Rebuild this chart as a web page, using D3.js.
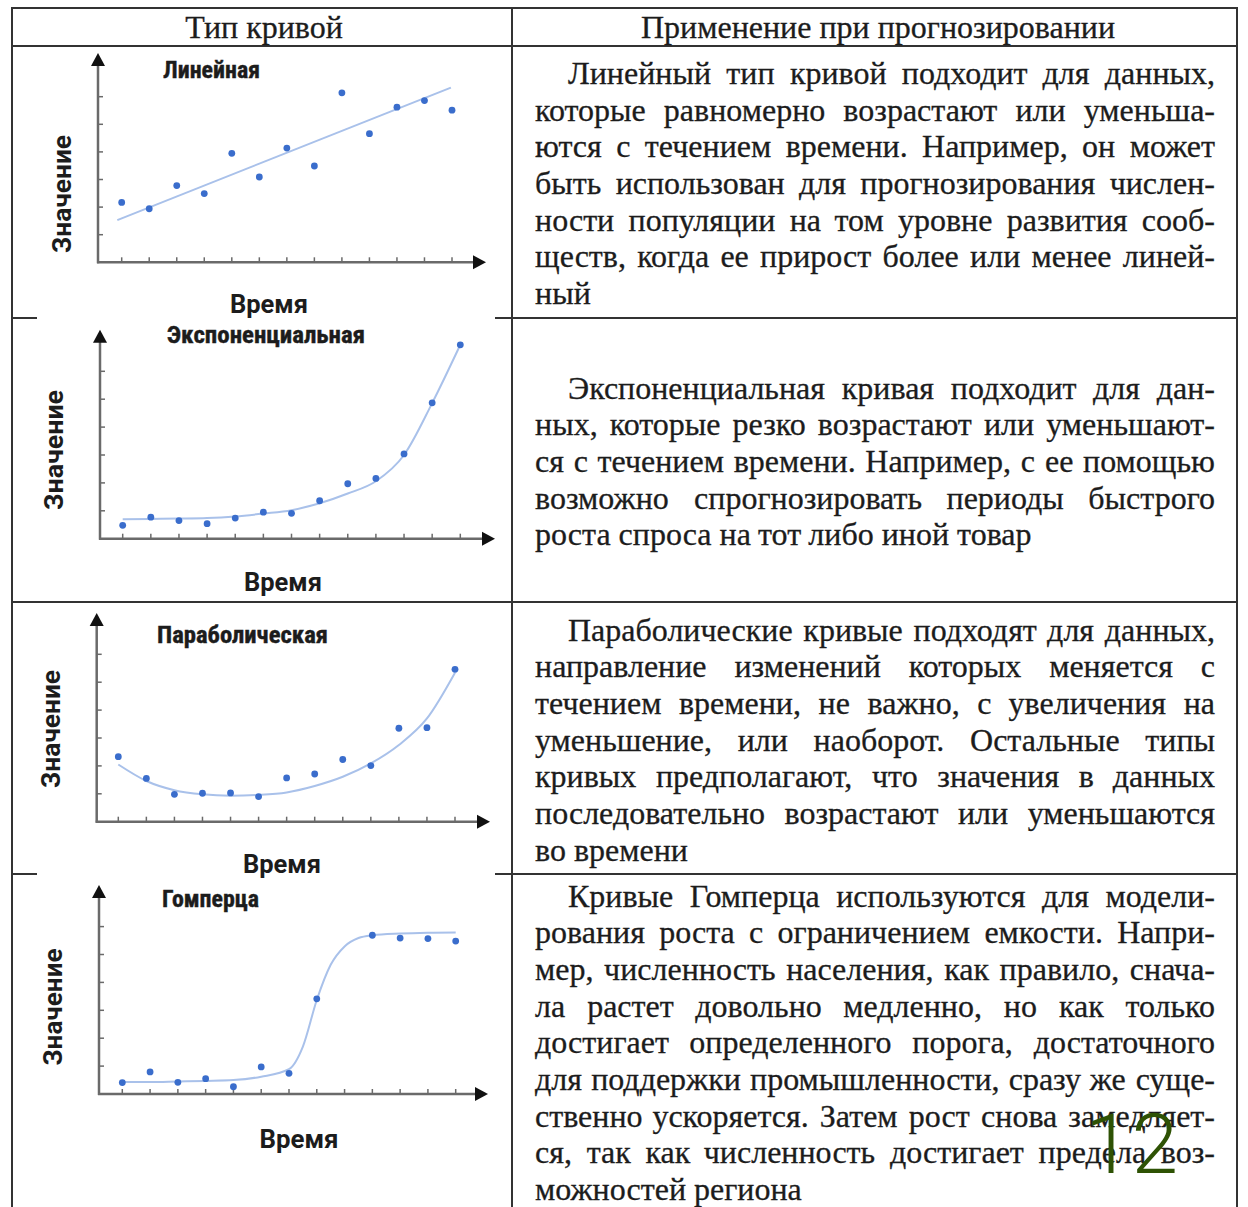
<!DOCTYPE html>
<html><head><meta charset="utf-8">
<script src="https://cdn.jsdelivr.net/npm/d3@7"></script>
<style>
body{margin:0;background:#fff;}
svg{display:block;}
</style></head><body>
<svg id="c" width="1248" height="1207"></svg>
<script>
// ---------------- DATA ----------------
const headers = ["Тип кривой", "Применение при прогнозировании"];
const chartTitles = ["Линейная", "Экспоненциальная", "Параболическая", "Гомперца"];
const xLabel = "Время";
const yLabel = "Значение";
const timeIdx = [1,2,3,4,5,6,7,8,9,10,11,12,13];
const yTickIdx = [1,2,3,4,5,6];

const linearValues = [2.17,1.94,2.78,2.49,3.95,3.09,4.14,3.49,6.14,4.66,5.62,5.86,5.51];
const linearFitX = [0.84, 12.96];
const linearFitY = [1.53, 6.33];

const expValues = [0.48,0.77,0.65,0.54,0.74,0.95,0.91,1.36,1.97,2.16,3.04,4.87,6.95];
const expFitY   = [0.70,0.71,0.72,0.74,0.80,0.90,1.02,1.27,1.62,2.06,3.00,4.86,6.95];

const paraValues = [2.33,1.55,0.98,1.02,1.03,0.90,1.57,1.71,2.23,2.01,3.35,3.37,5.46];
const paraFitY   = [2.05,1.46,1.13,0.98,0.93,0.96,1.05,1.28,1.61,2.09,2.75,3.70,5.34];

const gompValues = [0.41,0.79,0.42,0.55,0.26,0.97,0.74,3.41,null,5.69,5.59,5.57,5.48];
const gompFitX = [1,2,3,4,5,6,7,7.5,8,8.5,9,9.5,10,11,12,13];
const gompFitY = [0.43,0.43,0.45,0.47,0.50,0.62,0.89,1.70,3.37,4.63,5.29,5.59,5.69,5.75,5.78,5.79];

const descriptions = [
  ["Линейный тип кривой подходит для данных,",
   "которые равномерно возрастают или уменьша-",
   "ются с течением времени. Например, он может",
   "быть использован для прогнозирования числен-",
   "ности популяции на том уровне развития сооб-",
   "ществ, когда ее прирост более или менее линей-",
   "ный"],
  ["Экспоненциальная кривая подходит для дан-",
   "ных, которые резко возрастают или уменьшают-",
   "ся с течением времени. Например, с ее помощью",
   "возможно спрогнозировать периоды быстрого",
   "роста спроса на тот либо иной товар"],
  ["Параболические кривые подходят для данных,",
   "направление изменений которых меняется с",
   "течением времени, не важно, с увеличения на",
   "уменьшение, или наоборот. Остальные типы",
   "кривых предполагают, что значения в данных",
   "последовательно возрастают или уменьшаются",
   "во времени"],
  ["Кривые Гомперца используются для модели-",
   "рования роста с ограничением емкости. Напри-",
   "мер, численность населения, как правило, снача-",
   "ла растет довольно медленно, но как только",
   "достигает определенного порога, достаточного",
   "для поддержки промышленности, сразу же суще-",
   "ственно ускоряется. Затем рост снова замедляет-",
   "ся, так как численность достигает предела воз-",
   "можностей региона"]
];
const pageNumber = "12";

// ---------------- LAYOUT ----------------
const svg = d3.select("#c");
const TEXT = "#1c1c1c";
const BORDER = "#333";
const DOT = "#3a6dcc";
const FIT = "#a9c1ea";
const AXIS = "#6a6a6a";

const frames = [
  {ox:98,  oy:262.3, x1:121.7, x13:452,   dy:27.6, yTip:53,  xTip:486,
   title:{x:163,y:78,w:97}, yl:{x:62,y:194,w:118}, xl:{x:269,y:313,w:78}},
  {ox:100, oy:538.7, x1:122.7, x13:460.3, dy:27.9, yTip:329.7, xTip:495,
   title:{x:167,y:343,w:198}, yl:{x:54,y:450,w:120}, xl:{x:283,y:591,w:78}},
  {ox:96.7,oy:821.7, x1:118.3, x13:455,   dy:27.9, yTip:613, xTip:490,
   title:{x:157,y:643,w:171}, yl:{x:51,y:729,w:118}, xl:{x:282,y:873,w:78}},
  {ox:99,  oy:1094,  x1:122.3, x13:455.7, dy:27.9, yTip:885, xTip:488,
   title:{x:162,y:907,w:97}, yl:{x:52.5,y:1007,w:117}, xl:{x:299,y:1148,w:79}}
];

const series = [
  {pts: linearValues, fit: linearFitX.map((x,i)=>[x, linearFitY[i]]), curve: d3.curveLinear},
  {pts: expValues,    fit: timeIdx.map((x,i)=>[x, expFitY[i]]),       curve: d3.curveMonotoneX},
  {pts: paraValues,   fit: timeIdx.map((x,i)=>[x, paraFitY[i]]),      curve: d3.curveMonotoneX},
  {pts: gompValues,   fit: gompFitX.map((x,i)=>[x, gompFitY[i]]),     curve: d3.curveMonotoneX}
];

// ---------------- CHARTS ----------------
frames.forEach((f, k) => {
  const g = svg.append("g");
  const x = d3.scaleLinear().domain([1, 13]).range([f.x1, f.x13]);
  const y = d3.scaleLinear().domain([0, 6]).range([f.oy, f.oy - 6 * f.dy]);

  g.append("line").attr("x1", f.ox).attr("x2", f.ox).attr("y1", f.oy + 1).attr("y2", f.yTip + 8)
    .attr("stroke", AXIS).attr("stroke-width", 2.5);
  g.append("line").attr("x1", f.ox - 1).attr("x2", f.xTip - 8).attr("y1", f.oy).attr("y2", f.oy)
    .attr("stroke", AXIS).attr("stroke-width", 2.5);
  g.selectAll(".xt").data(timeIdx).join("line")
    .attr("x1", d => x(d)).attr("x2", d => x(d)).attr("y1", f.oy).attr("y2", f.oy - 5)
    .attr("stroke", AXIS).attr("stroke-width", 1.5);
  g.selectAll(".yt").data(yTickIdx).join("line")
    .attr("x1", f.ox).attr("x2", f.ox + 5).attr("y1", d => y(d)).attr("y2", d => y(d))
    .attr("stroke", AXIS).attr("stroke-width", 1.5);
  g.append("path").attr("fill", "#111")
    .attr("d", `M${f.ox},${f.yTip} L${f.ox - 7},${f.yTip + 13} L${f.ox + 7},${f.yTip + 13} Z`);
  g.append("path").attr("fill", "#111")
    .attr("d", `M${f.xTip},${f.oy} L${f.xTip - 13},${f.oy - 7} L${f.xTip - 13},${f.oy + 7} Z`);

  const s = series[k];
  g.append("path").datum(s.fit)
    .attr("fill", "none").attr("stroke", FIT).attr("stroke-width", 2)
    .attr("d", d3.line().x(d => x(d[0])).y(d => y(d[1])).curve(s.curve));
  g.selectAll("circle").data(timeIdx.map((t, i) => [t, s.pts[i]]).filter(d => d[1] !== null))
    .join("circle").attr("cx", d => x(d[0])).attr("cy", d => y(d[1])).attr("r", 3.4)
    .attr("fill", DOT);

  g.append("text").attr("x", f.title.x).attr("y", f.title.y)
    .attr("font-family", "'Liberation Sans Narrow','Roboto Condensed','Liberation Sans',sans-serif")
    .attr("font-weight", 700).attr("font-size", 23).attr("fill", TEXT)
    .attr("stroke", TEXT).attr("stroke-width", 0.4)
    .attr("textLength", f.title.w).attr("lengthAdjust", "spacingAndGlyphs")
    .text(chartTitles[k]);
  g.append("text").attr("transform", `translate(${f.yl.x + 9},${f.yl.y}) rotate(-90)`)
    .attr("text-anchor", "middle")
    .attr("font-family", "Roboto,'Liberation Sans',sans-serif")
    .attr("font-weight", 700).attr("font-size", 26).attr("fill", TEXT)
    .attr("textLength", f.yl.w).attr("lengthAdjust", "spacingAndGlyphs")
    .text(yLabel);
  g.append("text").attr("x", f.xl.x).attr("y", f.xl.y)
    .attr("text-anchor", "middle")
    .attr("font-family", "Roboto,'Liberation Sans',sans-serif")
    .attr("font-weight", 700).attr("font-size", 26).attr("fill", TEXT)
    .attr("textLength", f.xl.w).attr("lengthAdjust", "spacingAndGlyphs")
    .text(xLabel);
});

// ---------------- TABLE ----------------
const tg = svg.append("g").attr("stroke", BORDER).attr("stroke-width", 2);
const seg = (x1, y1, x2, y2) => tg.append("line").attr("x1", x1).attr("y1", y1).attr("x2", x2).attr("y2", y2);
seg(12, 8, 12, 1207);
seg(1237, 8, 1237, 1207);
seg(512, 8, 512, 1207);
seg(11, 8, 1238, 8);
seg(11, 46, 1238, 46);
seg(11, 602, 1238, 602);
[318, 874].forEach(yy => { seg(11, yy, 37, yy); seg(495, yy, 1238, yy); });

const SERIF = "'Liberation Serif','Times New Roman',serif";
const FS = 32;
svg.append("text").attr("x", 264).attr("y", 38).attr("text-anchor", "middle")
  .attr("font-family", SERIF).attr("font-size", FS).attr("fill", TEXT)
  .attr("stroke", TEXT).attr("stroke-width", 0.3).text(headers[0]);
svg.append("text").attr("x", 878).attr("y", 38).attr("text-anchor", "middle")
  .attr("font-family", SERIF).attr("font-size", FS).attr("fill", TEXT)
  .attr("stroke", TEXT).attr("stroke-width", 0.3).text(headers[1]);

const paraBase = [84, 398.5, 640.5, 906.5];
const LH = 36.67, LEFT = 535, INDENT = 568, RIGHT = 1215;
descriptions.forEach((lines, p) => {
  const g = svg.append("g").attr("font-family", SERIF).attr("font-size", FS).attr("fill", TEXT)
    .attr("stroke", TEXT).attr("stroke-width", 0.3);
  lines.forEach((ln, i) => {
    const words = ln.split(" ");
    const t = g.append("text").attr("y", paraBase[p] + i * LH);
    const spans = words.map(w => t.append("tspan").text(w));
    const widths = spans.map(sp => sp.node().getComputedTextLength());
    const start = i === 0 ? INDENT : LEFT;
    const last = i === lines.length - 1;
    const total = d3.sum(widths);
    let gap = (last || words.length < 2) ? 8 : (RIGHT - start - total) / (words.length - 1);
    if (gap < 3) {
      t.attr("textLength", RIGHT - start).attr("lengthAdjust", "spacingAndGlyphs");
    }
    let cx = start;
    spans.forEach((sp, j) => { sp.attr("x", cx); cx += widths[j] + Math.max(gap, 3); });
  });
});

svg.append("text").attr("x", 1085).attr("y", 1173)
  .attr("font-family", "Roboto,'Liberation Sans',Arial,sans-serif").attr("font-weight", 300)
  .attr("font-size", 84).attr("fill", "#2e5204").text(pageNumber);
</script>
</body></html>
